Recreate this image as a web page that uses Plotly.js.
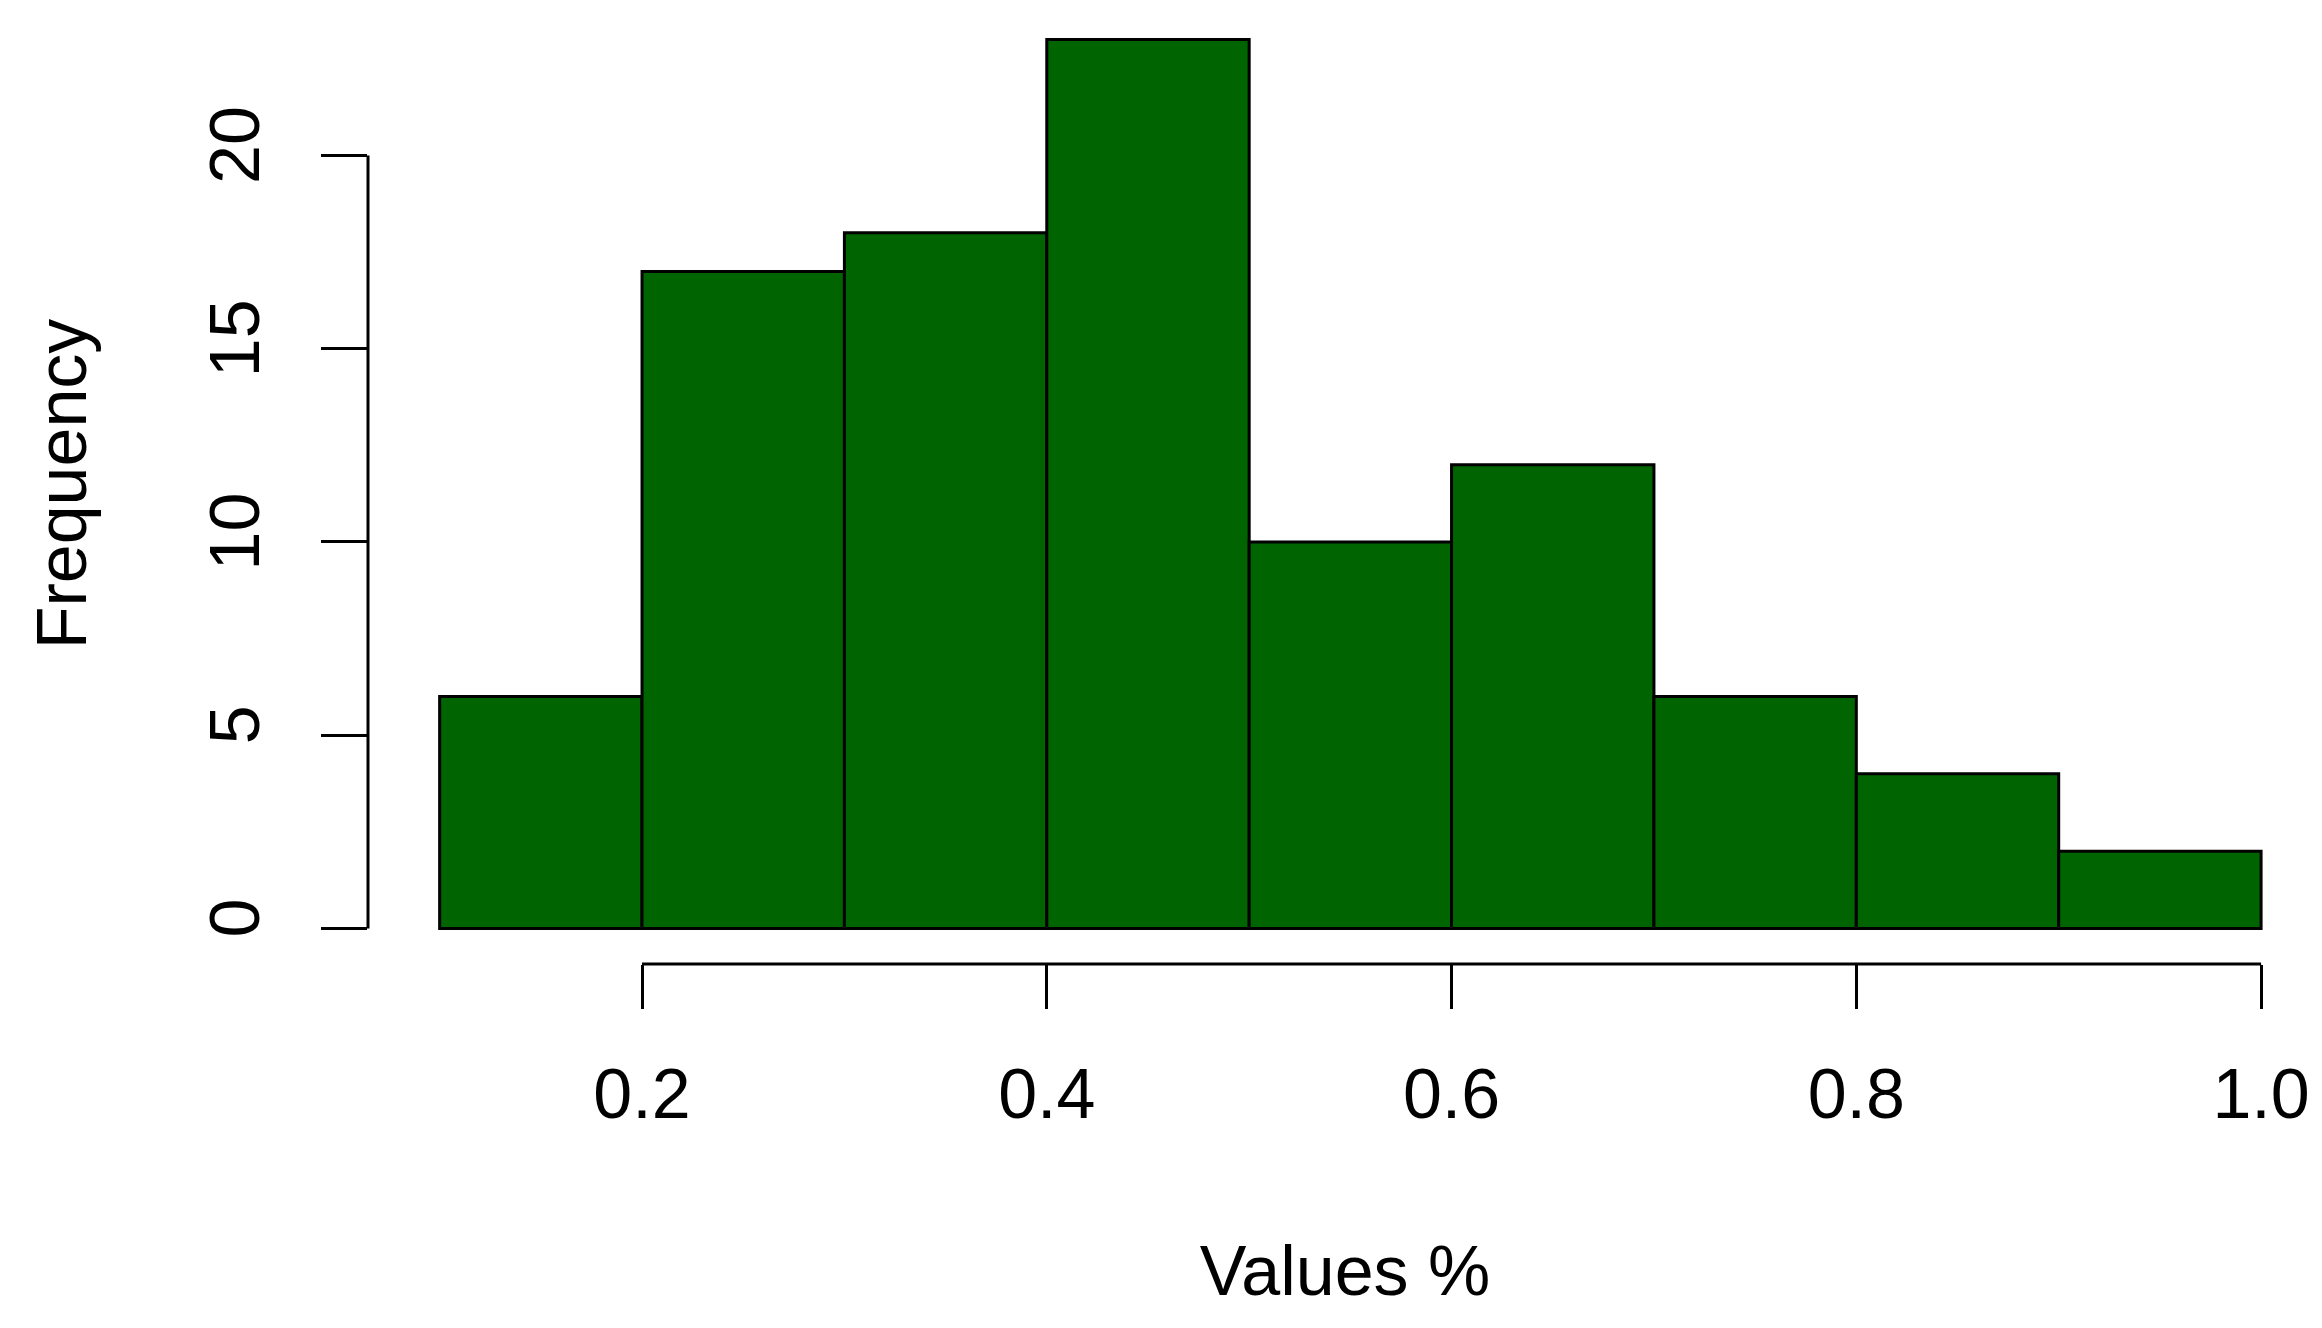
<!DOCTYPE html>
<html>
<head>
<meta charset="utf-8">
<script src="https://cdn.plot.ly/plotly-3.0.1.min.js"></script>
<style>html,body{margin:0;padding:0;background:#fff;}#chart{width:2322px;height:1328px;}</style>
</head>
<body>
<div id="chart"></div>
<script>
// Histogram data
const binEdges = [0.1, 0.2, 0.3, 0.4, 0.5, 0.6, 0.7, 0.8, 0.9, 1.0];
const counts = [6, 17, 18, 23, 10, 12, 6, 4, 2];
const xTickVals = [0.2, 0.4, 0.6, 0.8, 1.0];
const xTickText = ["0.2", "0.4", "0.6", "0.8", "1.0"];
const yTickVals = [0, 5, 10, 15, 20];
const yTickText = ["0", "5", "10", "15", "20"];
const xTitle = "Values %";
const yTitle = "Frequency";

const centers = counts.map((c, i) => (binEdges[i] + binEdges[i + 1]) / 2);
const widths = counts.map((c, i) => binEdges[i + 1] - binEdges[i]);

const FONT = "Liberation Sans, Arial, sans-serif";

const trace = {
  type: "bar",
  x: centers,
  y: counts,
  width: widths,
  marker: { color: "#006400", line: { color: "#000000", width: 3 } },
  hoverinfo: "skip"
};

const layout = {
  width: 2322,
  height: 1328,
  paper_bgcolor: "#ffffff",
  plot_bgcolor: "#ffffff",
  showlegend: false,
  margin: { l: 368, r: 0, t: 4, b: 364, pad: 0 },
  font: { family: FONT, size: 70, color: "#000" },
  xaxis: {
    range: [0.0646, 1.0301],
    showgrid: false,
    zeroline: false,
    showline: false,
    ticks: "outside",
    ticklen: 44,
    tickwidth: 3,
    tickcolor: "#000",
    tickvals: xTickVals,
    ticktext: xTickText,
    tickfont: { family: FONT, size: 70, color: "#000" },
    ticklabelstandoff: 25,
    title: { text: xTitle, font: { family: FONT, size: 70, color: "#000" }, standoff: 113 }
  },
  yaxis: {
    range: [-0.92, 23.92],
    showgrid: false,
    zeroline: false,
    showline: false,
    ticks: "outside",
    ticklen: 46,
    tickwidth: 3,
    tickcolor: "#000",
    tickvals: yTickVals,
    ticktext: yTickText,
    tickangle: -90,
    tickfont: { family: FONT, size: 70, color: "#000" },
    ticklabelstandoff: 34,
    title: { text: yTitle, font: { family: FONT, size: 70, color: "#000" }, standoff: 86 }
  },
  shapes: [
    { type: "line", xref: "x", yref: "paper", x0: xTickVals[0], x1: xTickVals[xTickVals.length - 1], y0: 0, y1: 0,
      line: { color: "#000", width: 3 } },
    { type: "line", xref: "paper", yref: "y", x0: 0, x1: 0, y0: yTickVals[0], y1: yTickVals[yTickVals.length - 1],
      line: { color: "#000", width: 3 } }
  ]
};

Plotly.newPlot("chart", [trace], layout, { staticPlot: true, displayModeBar: false });
</script>
</body>
</html>
